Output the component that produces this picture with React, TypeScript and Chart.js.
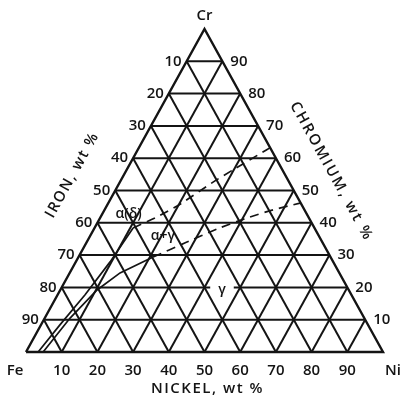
import React, { useEffect, useRef } from "react";
import { Chart, registerables } from "chart.js";

Chart.register(...registerables);

// ---- data (compositions in wt %: Ni and Cr; Fe = 100 - Ni - Cr) ----
const gridSteps = [10, 20, 30, 40, 50, 60, 70, 80, 90];
const ironTicks = [10, 20, 30, 40, 50, 60, 70, 80, 90];
const chromiumTicks = [90, 80, 70, 60, 50, 40, 30, 20, 10];
const nickelTicks = [10, 20, 30, 40, 50, 60, 70, 80, 90];

const axisTitles = ["IRON, wt %", "CHROMIUM, wt %", "NICKEL, wt %"];
const cornerLabels = ["Fe", "Ni", "Cr"];

// alpha / (alpha+gamma) boundary
const alphaSolidNi = [3.4, 5.3, 7.7, 9.6, 10.8];
const alphaSolidCr = [0, 8.4, 17.7, 27.9, 38.4];
const alphaDashedNi = [10.8, 15.8, 20.6, 26.1, 29.8, 35.4, 36.7];
const alphaDashedCr = [38.4, 41.8, 46.1, 52.6, 56.4, 61.9, 63.2];

// (alpha+gamma) / gamma boundary
const gammaSolidNi = [4.8, 7.1, 10.3, 14.1, 20.9];
const gammaSolidCr = [0, 10.5, 19.2, 24.5, 29.4];
const gammaDashedNi = [20.9, 27.7, 34.5, 41.2, 47.2, 53.7];
const gammaDashedCr = [29.4, 33.8, 38.1, 41.5, 44.0, 46.1];

const phaseLabels = ["α(δ)", "α+γ", "γ"];
const phaseLabelNi = [7.4, 20.4, 45.3];
const phaseLabelCr = [42.7, 35.9, 19.2];

// ternary (Ni, Cr) -> cartesian data coordinates
const toPt = (ni: number, cr: number) => ({ x: ni + cr / 2, y: cr });

const INK = "#141414";
const FONT = '600 15px "Open Sans", "DejaVu Sans", sans-serif';

function lineDataset(points: { x: number; y: number }[], width: number, dash: number[] = [], tension = 0) {
  return {
    type: "scatter" as const,
    data: points,
    showLine: true,
    borderColor: INK,
    backgroundColor: INK,
    borderWidth: width,
    borderDash: dash,
    pointRadius: 0,
    pointHoverRadius: 0,
    clip: false as const,
    tension,
  };
}

const textPlugin = {
  id: "ternaryText",
  afterDatasetsDraw(chart: any) {
    const { ctx } = chart;
    const sx = chart.scales.x;
    const sy = chart.scales.y;
    const P = (ni: number, cr: number) => {
      const p = toPt(ni, cr);
      return [sx.getPixelForValue(p.x), sy.getPixelForValue(p.y)];
    };
    ctx.save();
    ctx.fillStyle = INK;
    ctx.font = FONT;
    ctx.textBaseline = "middle";

    // iron ticks (left edge)
    ctx.textAlign = "right";
    ironTicks.forEach((v) => {
      const [px, py] = P(0, 100 - v);
      ctx.fillText(String(v), px - 5, py);
    });
    // chromium ticks (right edge)
    ctx.textAlign = "left";
    chromiumTicks.forEach((v) => {
      const [px, py] = P(100 - v, v);
      ctx.fillText(String(v), px + 8, py);
    });
    // nickel ticks (bottom)
    ctx.textAlign = "center";
    nickelTicks.forEach((v) => {
      const [px, py] = P(v, 0);
      ctx.fillText(String(v), px, py + 19);
    });

    // corners
    const [feX, feY] = P(0, 0);
    const [niX, niY] = P(100, 0);
    const [crX, crY] = P(0, 100);
    ctx.fillText(cornerLabels[0], feX - 11, feY + 19);
    ctx.fillText(cornerLabels[1], niX + 10, niY + 19);
    ctx.fillText(cornerLabels[2], crX, crY - 13);

    const setSpacing = (s: string) => {
      if ("letterSpacing" in ctx) (ctx as any).letterSpacing = s;
    };

    // axis titles
    setSpacing("1.5px");
    ctx.fillText(axisTitles[2], (feX + niX) / 2 + 3, feY + 37);

    const angle = Math.atan2(crY - feY, crX - feX);
    const [ix, iy] = P(-14.4, 54.8);
    ctx.save();
    ctx.translate(ix, iy);
    ctx.rotate(angle);
    ctx.fillText(axisTitles[0], 0, 0);
    ctx.restore();

    const angleR = Math.atan2(niY - crY, niX - crX);
    const [cx, cy] = P(57.6, 55.9);
    ctx.save();
    ctx.translate(cx, cy);
    ctx.rotate(angleR);
    setSpacing("2px");
    ctx.fillText(axisTitles[1], 0, 0);
    ctx.restore();
    setSpacing("0px");

    // phase labels
    ctx.font = '600 14px "Open Sans", "DejaVu Sans", sans-serif';
    phaseLabels.forEach((t, i) => {
      const [px, py] = P(phaseLabelNi[i], phaseLabelCr[i]);
      const w = ctx.measureText(t).width;
      if (t === "γ") {
        ctx.fillStyle = "#ffffff";
        ctx.fillRect(px - w / 2 - 8, py - 7, w + 16, 12);
        ctx.fillStyle = INK;
      }
      ctx.fillText(t, px, py);
    });
    ctx.restore();
  },
};

export default function App() {
  const ref = useRef<HTMLCanvasElement | null>(null);

  useEffect(() => {
    if (!ref.current) return;
    const datasets: any[] = [];

    // grid lines
    gridSteps.forEach((v) => {
      datasets.push(lineDataset([toPt(0, v), toPt(100 - v, v)], 2)); // const Cr
      datasets.push(lineDataset([toPt(v, 0), toPt(v, 100 - v)], 2)); // const Ni
      datasets.push(lineDataset([toPt(100 - v, 0), toPt(0, 100 - v)], 2)); // const Fe
    });
    // triangle outline
    datasets.push(lineDataset([toPt(0, 0), toPt(100, 0), toPt(0, 100), toPt(0, 0)], 2.4));

    // phase boundaries
    const zip = (a: number[], b: number[]) => a.map((n, i) => toPt(n, b[i]));
    datasets.push(lineDataset(zip(alphaSolidNi, alphaSolidCr), 1.7));
    datasets.push(lineDataset(zip(alphaDashedNi, alphaDashedCr), 1.7, [9, 6], 0.2));
    datasets.push(lineDataset(zip(gammaSolidNi, gammaSolidCr), 1.7));
    datasets.push(lineDataset(zip(gammaDashedNi, gammaDashedCr), 1.7, [9, 6], 0.2));

    const chart = new Chart(ref.current, {
      type: "scatter",
      data: { datasets },
      options: {
        animation: false,
        responsive: false,
        events: [],
        layout: { padding: { left: 26, right: 18, top: 29, bottom: 48 } },
        scales: {
          x: { type: "linear", min: 0, max: 100, display: false },
          y: { type: "linear", min: 0, max: 100, display: false },
        },
        plugins: { legend: { display: false }, tooltip: { enabled: false } },
      },
      plugins: [textPlugin],
    });
    return () => chart.destroy();
  }, []);

  return (
    <canvas
      ref={ref}
      width={401}
      height={400}
      style={{ display: "block", position: "absolute", left: 0, top: 0 }}
    />
  );
}
